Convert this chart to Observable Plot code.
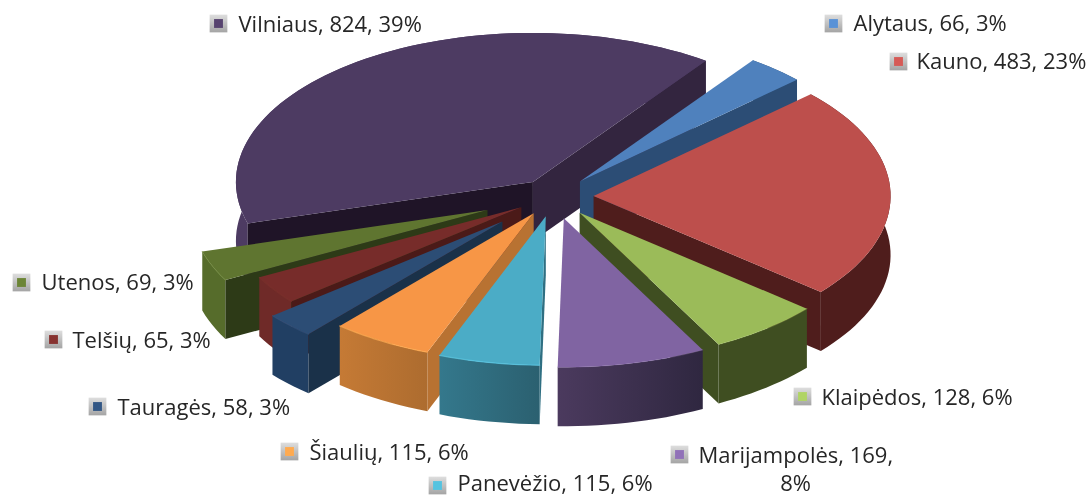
<!DOCTYPE html>
<html><head><meta charset="utf-8">
<script src="https://cdn.jsdelivr.net/npm/d3@7"></script>
<script src="https://cdn.jsdelivr.net/npm/@observablehq/plot@0.6"></script>
<style>
html,body{margin:0;padding:0;background:#fff}
svg{display:block;filter:blur(.45px)}
</style></head><body>
<script>
// --- chart data ---
const categories = ["Alytaus","Kauno","Klaipėdos","Marijampolės","Panevėžio","Šiaulių","Tauragės","Telšių","Utenos","Vilniaus"];
const values     = [66,483,128,169,115,115,58,65,69,824];
const percents   = [3,23,6,8,6,6,3,3,3,39];
const explosion  = [.135,.135,.14,.15,.135,.13,.24,.13,.24,.12];

// --- styles ---
const topColors   = ["#4f81bd","#bd4f4c","#9bbb59","#8064a2","#4bacc6","#f79646","#2c4d75","#772c2a","#5f7530","#4d3b62"];
const startWalls  = ["#2c4d75","#4f1d1c","#3f4e21","#3a2c4c","#2f6f82","#b87232","#1a3149","#4b1a18","#2d3a17","#1f1427"];
const endWalls    = ["#2c4d75","#4f1d1c","#3f4e21","#3a2c4c","#2f6f82","#b87232","#1a3149","#4b1a18","#2d3a17","#33253f"];
const arcFrom     = ["#2c4d75","#4f1d1c","#3f4e21","#4b3a5e","#34788c","#c57a35","#213f63","#6f2a28","#566c2b","#4d3b62"];
const arcTo       = ["#2c4d75","#4f1d1c","#3f4e21","#2f2740","#2b6070","#ad6c2f","#213f63","#6f2a28","#566c2b","#4d3b62"];
const bevels      = [0,0,.25,.25,.8,.8,.5,.5,.5,0];
const paintOrder  = [9,0,1,8,7,2,6,3,5,4];

// --- pie layout ---
const W = 1091, H = 497;
const cx = 553, cy = 196, rx = 297, ry = 149, depth = 59, startDeg = 35.6;
const rad = Math.PI/180;

// --- label layout ---
const labelRows = [
  {i:0, x:853, y:23, mx:833, my:23},
  {i:1, x:916, y:61, mx:898, my:61},
  {i:2, x:821, y:397, mx:802, my:396},
  {i:3, x:698, y:455, mx:679, my:454, text:"Marijampolės, 169,"},
  {i:4, x:457, y:483, mx:437, my:485},
  {i:5, x:309, y:452, mx:289, my:451},
  {i:6, x:117, y:407, mx:97, my:406},
  {i:7, x:72, y:340, mx:53, my:339},
  {i:8, x:41, y:282, mx:21, my:282},
  {i:9, x:238, y:24, mx:218, my:23}
];
const rows = labelRows.map(r => ({...r,
  label: r.text ?? `${categories[r.i]}, ${values[r.i]}, ${percents[r.i]}%`,
  color: d3.color(topColors[r.i]).brighter(.35).formatHex()}));

// --- slices from the values ---
const total = d3.sum(values);
let running = startDeg;
const slices = values.map((v,i) => {
  const a0 = running, a1 = running + v/total*360; running = a1;
  const mid = (a0+a1)/2*rad;
  const ox = cx + explosion[i]*rx*Math.sin(mid), oy = cy - explosion[i]*ry*Math.cos(mid);
  const rim = d3.range(0, 1.0001, 1/Math.max(4,Math.ceil((a1-a0)/2))).map(t => {
    const a = (a0 + (a1-a0)*t)*rad;
    return [ox + rx*Math.sin(a), oy - ry*Math.cos(a)];
  });
  return {i, ox, oy, rim, a0, a1};
});

const down = p => [p[0], p[1]+depth];
const poly = (pts, fill) => Plot.line(pts, {x:d=>d[0], y:d=>d[1], fill, stroke:"none", curve:"linear-closed"});
const marks = [];
const defs = () => {
  const s = d3.create("svg:defs");
  slices.forEach(({i}) => {
    const g = s.append("linearGradient").attr("id","arc"+i);
    g.append("stop").attr("offset","0").attr("stop-color",arcFrom[i]);
    g.append("stop").attr("offset","1").attr("stop-color",arcTo[i]);
  });
  const k = s.append("linearGradient").attr("id","key").attr("x2","0").attr("y2","1");
  k.append("stop").attr("offset","0").attr("stop-color","#dedede");
  k.append("stop").attr("offset","1").attr("stop-color","#a4a4a4");
  return s.node();
};
marks.push(defs);

const norm = a => ((a % 360) + 360) % 360;
for (const idx of paintOrder) {
  const {i, ox, oy, rim, a0, a1} = slices[idx];
  const o = [ox, oy], first = rim[0], last = rim[rim.length-1];
  const arc = [...rim, ...rim.slice().reverse().map(down)];
  marks.push(poly(arc, `url(#arc${i})`));
  // a radial wall faces the viewer only when the slice lies above it
  if (norm(a0) > 180) marks.push(poly([o, first, down(first), down(o)], startWalls[i]));
  if (norm(a1) < 180) marks.push(poly([o, last, down(last), down(o)], endWalls[i]));
  marks.push(poly([o, ...rim], topColors[i]));
  if (bevels[i] > 0) marks.push(Plot.line(rim, {x:d=>d[0], y:d=>d[1], stroke:d3.color(topColors[i]).brighter(.35).formatHex(), strokeWidth:1.2, strokeOpacity:bevels[i]}));
}

// legend keys
marks.push(Plot.dot(rows, {x:"mx", y:"my", symbol:"square", r:10, fill:"url(#key)"}));
marks.push(Plot.dot(rows, {x:"mx", y:"my", symbol:"square", r:5, fill:"color"}));
// labels
marks.push(Plot.text(rows, {x:"x", y:"y", text:"label", textAnchor:"start", fill:"#262626"}));
marks.push(Plot.text(["8%"], {x:[795], y:[483], text:d=>d, fill:"#262626"}));

const chart = Plot.plot({
  width:W, height:H, margin:0,
  x:{domain:[0,W], range:[0,W], axis:null},
  y:{domain:[0,H], range:[0,H], axis:null},
  style:{background:"#fff", fontFamily:"'Open Sans'", fontSize:"22px", overflow:"hidden"},
  marks
});
document.body.appendChild(chart);
</script>
</body></html>
